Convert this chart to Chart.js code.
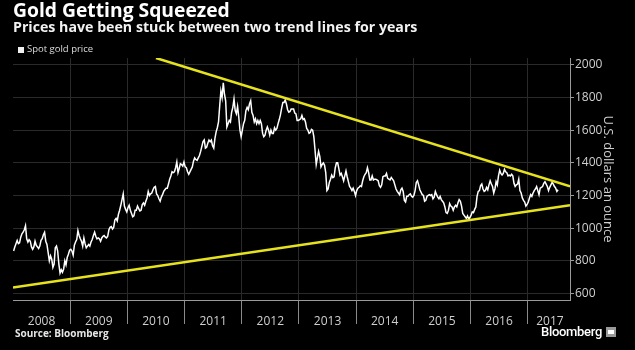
<!DOCTYPE html>
<html><head><meta charset="utf-8">
<script src="https://cdn.jsdelivr.net/npm/chart.js@4.4.0/dist/chart.umd.min.js"></script>
<style>
html,body{margin:0;padding:0;background:#000;}
#wrap{position:relative;width:635px;height:350px;overflow:hidden;background:#000;font-family:"Open Sans",sans-serif;}
canvas{position:absolute;left:0;top:0;}
.t{position:absolute;white-space:nowrap;color:#fff;}
</style></head><body>
<div id="wrap">
<canvas id="c" width="635" height="350"></canvas>
<div class="t" style="left:13px;top:0px;font-size:19.3px;line-height:19px;font-weight:700;">Gold Getting Squeezed</div>
<div class="t" style="left:13px;top:19.5px;font-size:14.2px;line-height:14.5px;font-weight:700;color:#f2f2f2;">Prices have been stuck between two trend lines for years</div>
<div class="t" style="left:18px;top:47px;width:6px;height:6px;background:#f0f0f0;"></div>
<div class="t" style="left:27px;top:44px;font-size:9.5px;line-height:10px;color:#ddd;">Spot gold price</div>
<div class="t" style="left:15px;top:328px;font-size:10px;line-height:10px;font-weight:700;color:#e6e6e6;">Source: Bloomberg</div>
<div class="t" style="left:541px;top:325px;font-family:Roboto,sans-serif;font-size:13px;line-height:14px;font-weight:500;letter-spacing:-0.3px;color:#fff;">Bloomberg</div>
<div class="t" style="left:606px;top:327px;width:10px;height:10px;background:#9a9a9a;"><div style="position:absolute;left:2px;top:3px;width:6px;height:4px;background:#fff;"></div></div>
</div>
<script>
// Weekly-ish spot gold prices (4 readings per month), USD/oz
const gold2008 = [860,885,905,925, 905,910,945,965, 975,990,1015,935, 915,930,920,885, 870,885,920,895, 885,875,890,925, 935,960,975,920, 900,850,800,830, 810,760,780,880, 890,860,780,725, 745,730,750,800, 775,820,840,865];
const gold2009 = [870,860,835,895, 915,930,985,955, 935,920,890,940, 905,880,890,900, 890,915,930,955, 975,950,935,940, 935,920,940,950, 955,945,940,950, 990,1005,1010,995, 1005,1050,1060,1045, 1085,1110,1140,1175, 1210,1135,1115,1100];
const gold2010 = [1125,1140,1110,1090, 1070,1075,1110,1110, 1135,1120,1105,1110, 1145,1155,1140,1165, 1185,1225,1200,1210, 1215,1235,1250,1255, 1210,1200,1180,1165, 1190,1205,1225,1235, 1245,1245,1270,1300, 1320,1345,1340,1345, 1370,1405,1340,1365, 1395,1390,1380,1405];
const gold2011 = [1375,1370,1345,1330, 1345,1360,1375,1410, 1430,1420,1415,1430, 1445,1470,1500,1530, 1540,1490,1495,1520, 1540,1530,1540,1505, 1490,1550,1590,1615, 1650,1750,1840,1800, 1890,1820,1780,1620, 1640,1660,1650,1710, 1740,1790,1720,1700, 1745,1680,1600,1560];
const gold2012 = [1600,1640,1660,1720, 1740,1725,1760,1780, 1710,1690,1650,1670, 1640,1660,1640,1660, 1640,1580,1560,1570, 1600,1620,1600,1570, 1600,1580,1580,1615, 1600,1610,1640,1665, 1695,1735,1770,1770, 1785,1760,1725,1710, 1715,1730,1730,1730, 1705,1700,1660,1660];
const gold2013 = [1665,1670,1690,1665, 1670,1650,1610,1600, 1580,1585,1605,1600, 1560,1480,1390,1430, 1470,1440,1375,1390, 1400,1385,1340,1230, 1240,1280,1300,1325, 1310,1315,1370,1400, 1400,1365,1325,1335, 1315,1290,1320,1350, 1315,1285,1255,1245, 1230,1245,1225,1200];
const gold2014 = [1230,1245,1250,1260, 1255,1290,1315,1330, 1340,1370,1340,1295, 1295,1320,1295,1300, 1300,1295,1290,1260, 1250,1265,1315,1320, 1320,1335,1305,1300, 1295,1310,1300,1290, 1265,1240,1225,1215, 1205,1235,1245,1225, 1170,1160,1195,1195, 1205,1210,1195,1190];
const gold2015 = [1200,1230,1280,1290, 1265,1235,1220,1205, 1200,1165,1170,1195, 1200,1205,1200,1205, 1180,1190,1225,1205, 1190,1180,1195,1175, 1165,1155,1130,1095, 1090,1110,1150,1135, 1130,1110,1130,1140, 1130,1155,1175,1165, 1135,1090,1080,1070, 1060,1075,1055,1065];
const gold2016 = [1080,1100,1095,1115, 1130,1195,1225,1230, 1260,1270,1240,1225, 1230,1250,1235,1265, 1290,1270,1255,1215, 1240,1285,1265,1320, 1355,1335,1325,1335, 1360,1345,1340,1320, 1325,1320,1330,1320, 1275,1255,1265,1270, 1300,1230,1215,1185, 1170,1160,1135,1145];
const gold2017 = [1160,1185,1205,1195, 1215,1230,1240,1255, 1230,1205,1245,1250, 1255,1275,1285,1270, 1255,1230,1250,1265, 1280,1270,1255,1245, 1225,1235];
const goldYears = [2008,2009,2010,2011,2012,2013,2014,2015,2016,2017];
const goldByYear = [gold2008,gold2009,gold2010,gold2011,gold2012,gold2013,gold2014,gold2015,gold2016,gold2017];

// Trend lines (year, price)
const upperTrend = [[2010.5, 2042], [2017.74, 1257]];
const lowerTrend = [[2008.0, 637], [2017.74, 1140]];

// Axis ticks
const yearLabels = ['2008','2009','2010','2011','2012','2013','2014','2015','2016','2017'];
const yearBounds = [2009,2010,2011,2012,2013,2014,2015,2016,2017];
const yearLabelPos = [2008.5,2009.5,2010.5,2011.5,2012.5,2013.5,2014.5,2015.5,2016.5,2017.39];
const yTicks = [600,700,800,900,1000,1100,1200,1300,1400,1500,1600,1700,1800,1900,2000];
const xMin = 2008.0, xMax = 2017.74, yMin = 560, yMax = 2042;

const goldPts = [];
goldByYear.forEach((arr, k) => arr.forEach((v, i) => goldPts.push({x: goldYears[k] + (i + 0.5) / 48, y: v})));
const toPts = a => a.map(p => ({x: p[0], y: p[1]}));

const isBound = v => yearBounds.some(b => Math.abs(b - v) < 1e-6);

new Chart(document.getElementById('c'), {
  type: 'line',
  data: {
    datasets: [
      {data: toPts(upperTrend), borderColor: '#e6e21e', borderWidth: 2.5, pointRadius: 0, fill: false},
      {data: toPts(lowerTrend), borderColor: '#e6e21e', borderWidth: 2.5, pointRadius: 0, fill: false},
      {data: goldPts, borderColor: '#ffffff', borderWidth: 1.5, pointRadius: 0, fill: false, tension: 0}
    ]
  },
  options: {
    responsive: false, animation: false, devicePixelRatio: 1,
    layout: {padding: {left: 13, top: 58, right: 0, bottom: 0}},
    plugins: {legend: {display: false}, tooltip: {enabled: false}},
    scales: {
      x: {
        type: 'linear', position: 'bottom', min: xMin, max: xMax,
        afterBuildTicks: s => { s.ticks = yearBounds.concat(yearLabelPos).sort((a,b)=>a-b).map(v => ({value: v})); },
        afterFit: s => { s.height = 50; },
        grid: {
          color: c => (c.tick && isBound(c.tick.value)) ? '#2a2a2a' : 'rgba(0,0,0,0)',
          tickColor: c => (c.tick && isBound(c.tick.value)) ? '#8a8a8a' : 'rgba(0,0,0,0)',
          tickLength: 24, lineWidth: 1
        },
        border: {display: true, color: '#9a9a9a', width: 1},
        ticks: {
          autoSkip: false, maxRotation: 0, padding: -10, color: '#cfcfcf',
          font: {family: 'Open Sans', size: 12},
          callback: v => { const i = yearLabelPos.findIndex(p => Math.abs(p - v) < 1e-6); return i >= 0 ? yearLabels[i] : ''; }
        }
      },
      y: {
        type: 'linear', position: 'right', min: yMin, max: yMax,
        afterBuildTicks: s => { s.ticks = yTicks.map(v => ({value: v})); },
        afterFit: s => { s.width = 65; },
        grid: {
          color: c => (c.tick && c.tick.value % 200 === 0) ? '#2a2a2a' : 'rgba(0,0,0,0)',
          tickColor: c => (c.tick && c.tick.value % 200 === 0) ? '#9a9a9a' : '#5a5a5a',
          tickLength: 4, lineWidth: 1
        },
        border: {display: true, color: '#9a9a9a', width: 1},
        ticks: {
          padding: 1, color: '#cfcfcf', font: {family: 'Open Sans', size: 12},
          callback: v => (v % 200 === 0) ? String(v) : ''
        },
        title: {display: true, text: 'U.S. dollars an ounce', color: '#cfcfcf', font: {family: 'Open Sans', size: 13}, padding: {top: 19, bottom: 0}}
      }
    }
  }
});
</script>
</body></html>
